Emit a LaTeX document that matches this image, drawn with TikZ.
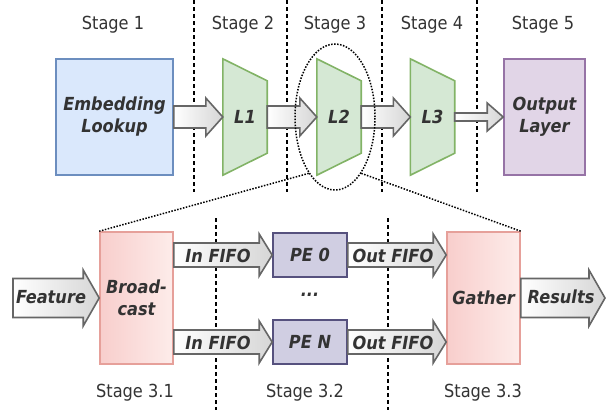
\documentclass[tikz,border=0pt]{standalone}
\usepackage{fontspec}
\setmainfont{DejaVu Sans}[FakeStretch=0.9]
\usetikzlibrary{calc,shapes.geometric,backgrounds}
\definecolor{txt}{HTML}{333333}
\definecolor{blueF}{HTML}{DAE8FC}\definecolor{blueD}{HTML}{6C8EBF}
\definecolor{greenF}{HTML}{D5E8D4}\definecolor{greenD}{HTML}{82B366}
\definecolor{purpF}{HTML}{E1D5E7}\definecolor{purpD}{HTML}{9673A6}
\definecolor{peF}{HTML}{D0CEE2}\definecolor{peD}{HTML}{56517E}
\definecolor{redF}{HTML}{F8CECC}\definecolor{redL}{HTML}{FDECEA}\definecolor{redD}{HTML}{E6A09A}
\definecolor{arrD}{HTML}{666666}\definecolor{arrG}{HTML}{D6D6D6}
\newcommand\barrow[5]{%
  \path[blockarrow] let \p1=#1, \p2=#2 in
    (\x1,\y1+#3pt) -- (\x2-#5pt,\y1+#3pt) -- (\x2-#5pt,\y1+#4pt) -- (\x2,\y1)
    -- (\x2-#5pt,\y1-#4pt) -- (\x2-#5pt,\y1-#3pt) -- (\x1,\y1-#3pt) -- cycle;}
\tikzset{
  stagelbl/.style={text=txt,font=\fontsize{18}{22}\selectfont,inner sep=0pt},
  boldlbl/.style={text=txt,font=\fontsize{18}{22}\selectfont\bfseries\itshape,inner sep=0pt,align=center},
  box/.style={line width=1.6pt,inner sep=0pt,text=txt,font=\fontsize{18}{22}\selectfont\bfseries\itshape,align=center},
  trapbox/.style={inner sep=0pt,minimum width=44pt,minimum height=116pt,text=txt,font=\fontsize{18}{22}\selectfont\bfseries\itshape},
  trapfill/.style={fill=greenF,draw=greenD,line width=1.6pt,line join=miter},
  blockarrow/.style={draw=arrD,line width=1.6pt,left color=white,right color=arrG,line join=miter},
  sep/.style={black,line width=1.1pt,dash pattern=on 4pt off 3pt},
  dots/.style={black,line width=1.5pt,dash pattern=on 1.5pt off 1.5pt},
}
\begin{document}
\begin{tikzpicture}[x=1pt,y=-1pt]
\useasboundingbox (0,0) rectangle (610,410);
% separators
\draw[sep] (194,0) -- (194,192);
\draw[sep] (287,0) -- (287,192);
\draw[sep] (382,0) -- (382,192);
\draw[sep] (477,0) -- (477,192);
\draw[sep] (216,218) -- (216,410);
\draw[sep] (388,218) -- (388,410);
% stage labels
\node[stagelbl] (s1) at (113,25) {Stage 1};
\node[stagelbl] (s2) at (243,25) {Stage 2};
\node[stagelbl] (s3) at (335,25) {Stage 3};
\node[stagelbl] (s4) at (432,25) {Stage 4};
\node[stagelbl] (s5) at (543,25) {Stage 5};
\node[stagelbl] (s31) at (135,393) {Stage 3.1};
\node[stagelbl] (s32) at (305,393) {Stage 3.2};
\node[stagelbl] (s33) at (483,393) {Stage 3.3};
% top row
\node[box,fill=blueF,draw=blueD,minimum width=117pt,minimum height=116pt] (emb) at (114.5,117) {Embedding\\Lookup};
\node[trapbox] (L1) at (245,117) {L1};
\node[trapbox] (L2) at (339,117) {L2};
\node[trapbox] (L3) at (432.5,117) {L3};
\begin{scope}[on background layer]
\foreach \n in {L1,L2,L3}{
  \draw[trapfill] (\n.north west) -- ([yshift=-22pt]\n.north east) -- ([yshift=22pt]\n.south east) -- (\n.south west) -- cycle;}
\end{scope}
\node[box,fill=purpF,draw=purpD,minimum width=81pt,minimum height=116pt] (out) at (544.5,117) {Output\\Layer};
\barrow{(emb.east)}{(L1.west)}{11}{19}{17}
\barrow{(L1.east)}{(L2.west)}{11}{19}{17}
\barrow{(L2.east)}{(L3.west)}{11}{19}{17}
\barrow{(L3.east)}{(out.west)}{4}{14}{16}
% ellipse around L2
\node[ellipse,dots,draw,minimum width=80pt,minimum height=146pt] (ell) at (335,117) {};
% bottom row
\node[box,left color=redF,right color=redL,draw=redD,minimum width=73pt,minimum height=132pt] (bc) at (136.5,298) {Broad-\\cast};
\node[box,left color=redF,right color=redL,draw=redD,minimum width=73pt,minimum height=132pt] (gt) at (483.5,298) {Gather};
\node[box,fill=peF,draw=peD,minimum width=74pt,minimum height=44pt] (pe0) at (310,255) {PE 0};
\node[box,fill=peF,draw=peD,minimum width=74pt,minimum height=44pt] (pen) at (310,342) {PE N};
\node[boldlbl] (dd) at (310,295) {...};
\draw[dots] (ell.245) -- (bc.north west);
\draw[dots] (ell.295) -- (gt.north east);
\coordinate (featS) at (13,298);
\coordinate (resE) at (605,298);
\barrow{(featS)}{(bc.west)}{19.5}{28}{16}
\barrow{(gt.east)}{(resE)}{19.5}{28}{16}
\barrow{(bc.east|-pe0.west)}{(pe0.west)}{12}{21}{13}
\barrow{(bc.east|-pen.west)}{(pen.west)}{12}{21}{13}
\barrow{(pe0.east)}{(gt.west|-pe0.east)}{12}{21}{13}
\barrow{(pen.east)}{(gt.west|-pen.east)}{12}{21}{13}
\node[boldlbl] (lf) at (51,297) {Feature};
\node[boldlbl] (lr) at (561,297) {Results};
\node[boldlbl] (li0) at (218,256) {In FIFO};
\node[boldlbl] (lin) at (218,343) {In FIFO};
\node[boldlbl] (lo0) at (393,256) {Out FIFO};
\node[boldlbl] (lon) at (393,343) {Out FIFO};
\end{tikzpicture}
\end{document}
